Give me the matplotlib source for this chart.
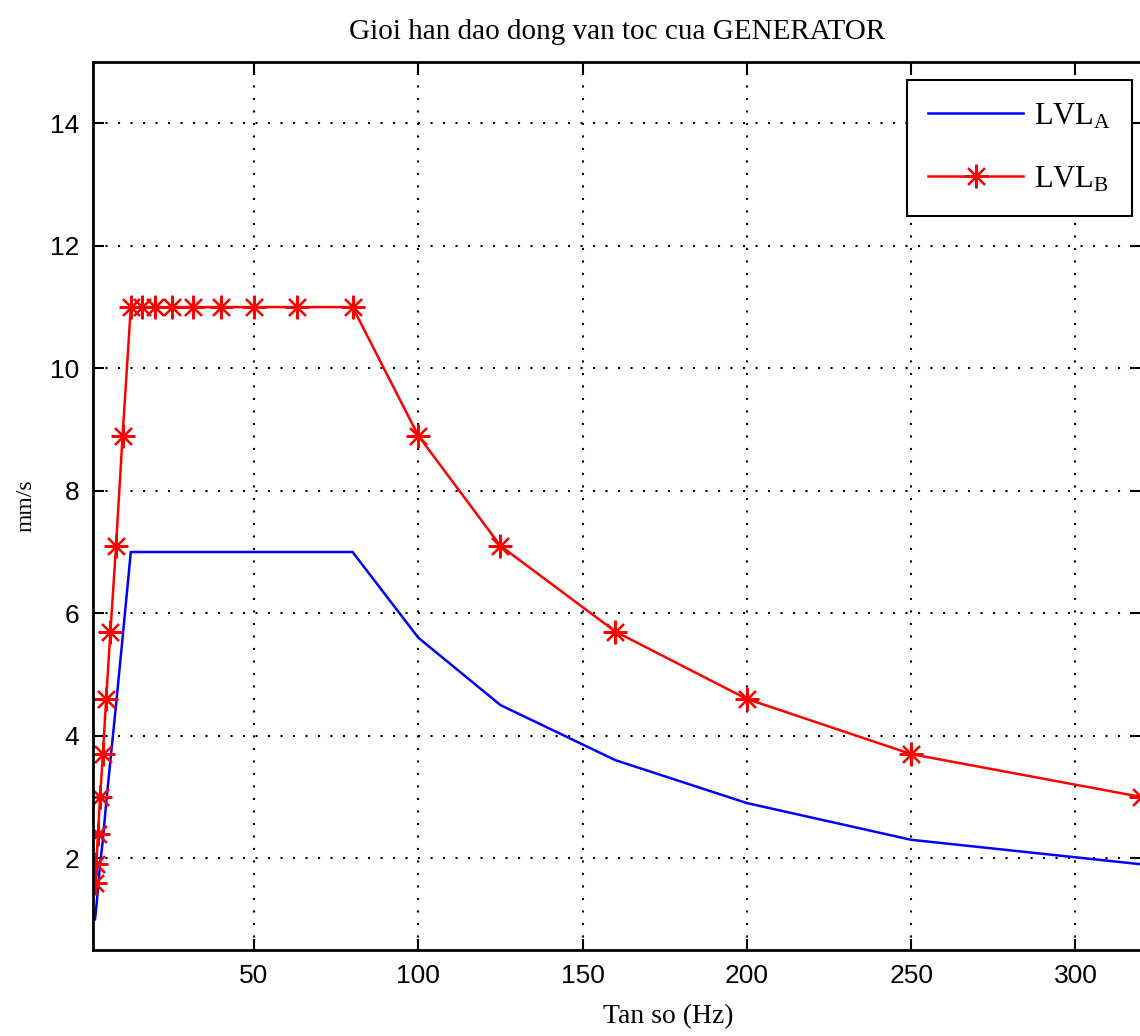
import matplotlib
matplotlib.use("Agg")
import matplotlib.pyplot as plt

# Tan so (Hz) - 1/3 octave
freq = [1.6, 2, 2.5, 3.15, 4, 5, 6.3, 8, 10, 12.5, 16, 20, 25, 31.5, 40, 50,
        63, 80, 100, 125, 160, 200, 250, 320]
lvl_a = [1.0, 1.2, 1.5, 1.9, 2.3, 2.9, 3.6, 4.5, 5.6, 7.0, 7.0, 7.0, 7.0, 7.0,
         7.0, 7.0, 7.0, 7.0, 5.6, 4.5, 3.6, 2.9, 2.3, 1.9]
lvl_b = [1.6, 1.9, 2.4, 3.0, 3.7, 4.6, 5.7, 7.1, 8.9, 11.0, 11.0, 11.0, 11.0,
         11.0, 11.0, 11.0, 11.0, 11.0, 8.9, 7.1, 5.7, 4.6, 3.7, 3.0]
xticks = [50, 100, 150, 200, 250, 300]
yticks = [2, 4, 6, 8, 10, 12, 14]

serif = "Liberation Serif"
sans = "Liberation Sans"

fig = plt.figure(figsize=(11.4, 10.36), dpi=100)
ax = fig.add_axes([0.0816, 0.083, 0.9194, 0.857])

ax.plot(freq, lvl_a, color="#0000ff", lw=1.8, label=r"$\mathregular{LVL_A}$")
ax.plot(freq, lvl_b, color="#ff0000", lw=1.8, marker=(8, 2, 0), markersize=17,
        markeredgewidth=1.6, label=r"$\mathregular{LVL_B}$")

ax.set_xlim(1, 320)
ax.set_ylim(0.5, 15)
ax.set_xticks(xticks)
ax.set_yticks(yticks)
ax.grid(True, color="black", linestyle=(0, (1, 5)), linewidth=1.5)
ax.tick_params(direction="in", length=8, width=1.5, top=True, right=True,
               labelsize=19, pad=10)
for lab in ax.get_xticklabels() + ax.get_yticklabels():
    lab.set_fontfamily(sans)
for sp in ax.spines.values():
    sp.set_linewidth(2)

ax.set_title("Gioi han dao dong van toc cua GENERATOR", fontsize=21,
             fontfamily=serif, pad=17)
ax.set_xlabel("Tan so (Hz)", fontsize=20, fontfamily=serif)
ax.xaxis.set_label_coords(0.549, -0.061)
ax.set_ylabel("mm/s", fontsize=17, fontfamily=serif)
ax.yaxis.set_label_coords(-0.054, 0.5)

leg = ax.legend(loc="upper right", bbox_to_anchor=(0.9914, 0.9797),
                borderaxespad=0, prop={"family": serif, "size": 22},
                fancybox=False, edgecolor="black", framealpha=1,
                handlelength=3.1, handletextpad=0.35, labelspacing=1.1,
                borderpad=0.7)
leg.get_frame().set_linewidth(1.5)

fig.savefig("out.png", dpi=100)
